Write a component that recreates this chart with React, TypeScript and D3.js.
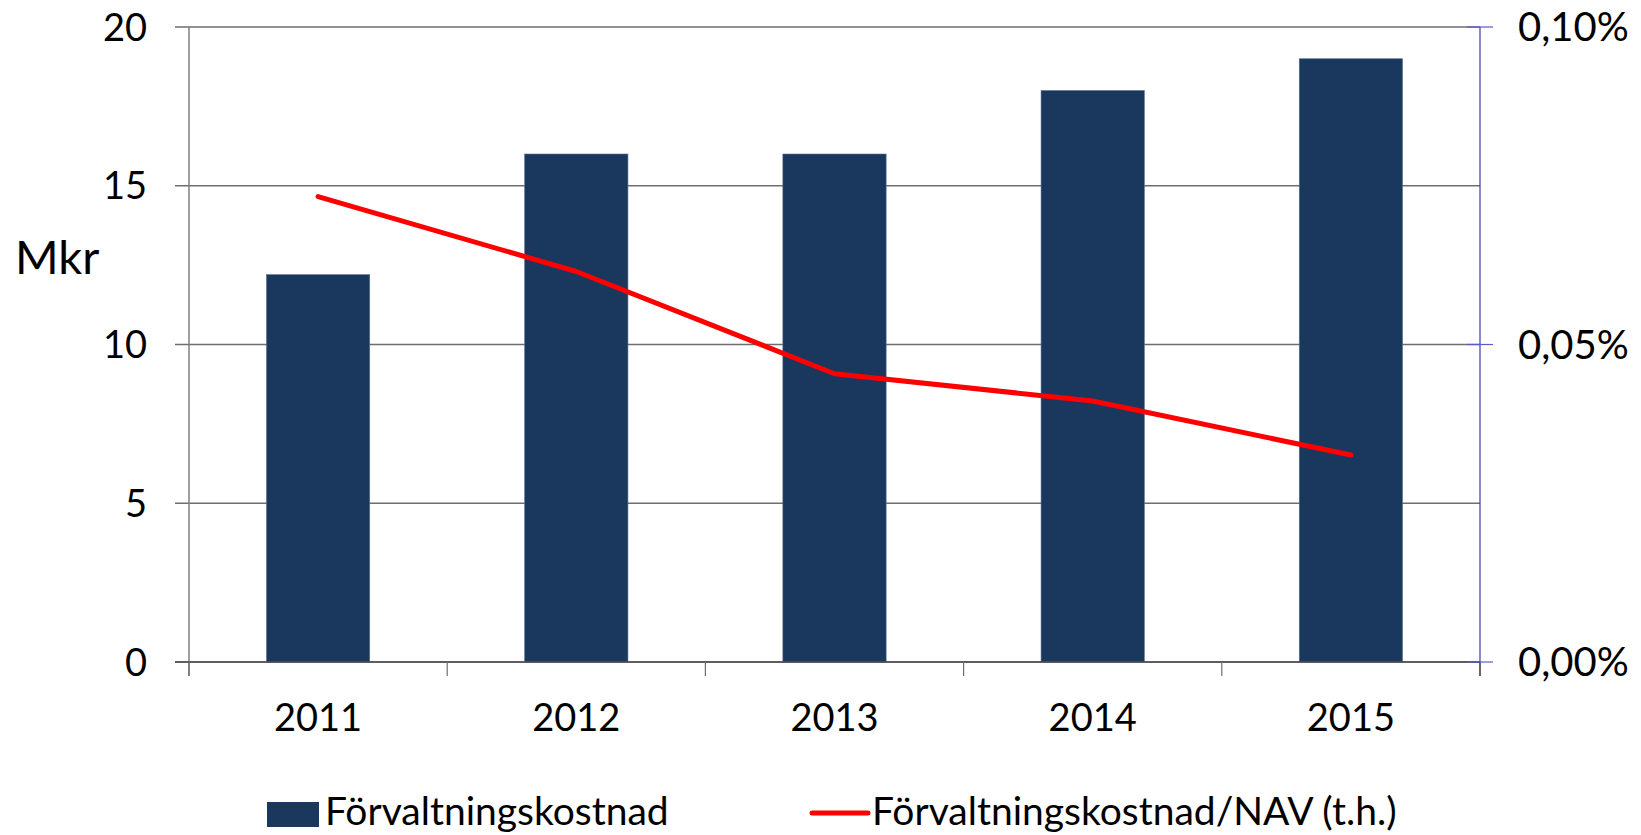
import React from 'react';
import * as d3 from 'd3';

const years = ['2011', '2012', '2013', '2014', '2015'];
const kostnad = [12.2, 16, 16, 18, 19];
const kostnadPerNav = [0.0733, 0.0615, 0.0454, 0.0411, 0.0326]; // in %
const leftTicks = [0, 5, 10, 15, 20];
const rightTicks = [0, 0.05, 0.1];

const W = 1641;
const H = 835;
const left = 189;
const right = 1480;
const top = 27;
const bottom = 662;
const font = 'Lato, "Open Sans", sans-serif';
const barColor = '#1a375e';

const App = () => {
  const x = d3.scaleBand<string>().domain(years).range([left, right]).padding(0);
  const yL = d3.scaleLinear().domain([0, 20]).range([bottom, top]);
  const yR = d3.scaleLinear().domain([0, 0.1]).range([bottom, top]);
  const barW = x.bandwidth() * 0.4;
  const cx = (d: string) => (x(d) as number) + x.bandwidth() / 2;

  const line = d3
    .line<number>()
    .x((_, i) => cx(years[i]))
    .y(d => yR(d));

  const fmtPct = (v: number) => v.toFixed(2).replace('.', ',') + '%';

  return (
    <svg
      width={W}
      height={H}
      style={{ position: 'absolute', left: 0, top: 0, background: '#fff' }}
      fontFamily={font}
    >
      {/* gridlines + left ticks */}
      {leftTicks.map(t => (
        <g key={t}>
          <line x1={175} x2={right} y1={yL(t)} y2={yL(t)} stroke="#6e6e6e" strokeWidth={1.5} />
          <text x={147} y={yL(t)} dy="0.36em" textAnchor="end" fontSize={38} fill="#000">
            {t}
          </text>
        </g>
      ))}

      {/* bars */}
      {years.map((d, i) => (
        <rect
          key={d}
          x={cx(d) - barW / 2}
          y={yL(kostnad[i])}
          width={barW}
          height={bottom - yL(kostnad[i])}
          fill={barColor}
          stroke="#5a7090"
          strokeWidth={0.6}
        />
      ))}

      {/* left axis */}
      <line x1={left} x2={left} y1={top} y2={bottom + 14} stroke="#7f7f7f" strokeWidth={1.5} />
      {/* x axis */}
      <line x1={175} x2={right} y1={bottom} y2={bottom} stroke="#4d4d4d" strokeWidth={1.5} />
      {d3.range(years.length + 1).map(i => {
        const xx = left + i * x.step();
        return (
          <line
            key={i}
            x1={xx}
            x2={xx}
            y1={bottom}
            y2={bottom + 14}
            stroke={i === years.length ? '#000' : '#6e6e6e'}
            strokeWidth={1.2}
          />
        );
      })}
      {years.map(d => (
        <text key={d} x={cx(d)} y={731} textAnchor="middle" fontSize={38} fill="#000">
          {d}
        </text>
      ))}

      {/* right axis */}
      <line x1={right} x2={right} y1={top} y2={bottom} stroke="#3a3aa8" strokeWidth={1.2} />
      {rightTicks.map(t => (
        <g key={t}>
          <line x1={right - 13} x2={right + 13} y1={yR(t)} y2={yR(t)} stroke="#5a5acc" strokeWidth={1.2} />
          <text x={1518} y={yR(t)} dy="0.36em" textAnchor="start" fontSize={40} fill="#000">
            {fmtPct(t)}
          </text>
        </g>
      ))}

      {/* line series */}
      <path
        d={line(kostnadPerNav) || ''}
        fill="none"
        stroke="#ff0000"
        strokeWidth={5}
        strokeLinecap="round"
        strokeLinejoin="round"
      />

      {/* y-axis title */}
      <text x={15} y={274} fontSize={47} fill="#000">
        Mkr
      </text>

      {/* legend */}
      <rect x={267} y={802} width={52} height={25} fill={barColor} />
      <text x={325} y={825} fontSize={39} fill="#000">
        Förvaltningskostnad
      </text>
      <line x1={812} x2={868} y1={813} y2={813} stroke="#ff0000" strokeWidth={5} strokeLinecap="round" />
      <text x={872} y={825} fontSize={39} fill="#000">
        Förvaltningskostnad/NAV (t.h.)
      </text>
    </svg>
  );
};

export default App;
